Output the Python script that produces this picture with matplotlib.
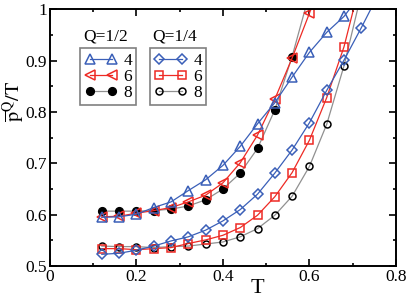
import numpy as np
import matplotlib
matplotlib.use("Agg")
import matplotlib.pyplot as plt
from matplotlib.lines import Line2D

plt.rcParams['font.family'] = ['Liberation Serif', 'DejaVu Serif']
plt.rcParams['mathtext.fontset'] = 'stix'

# temperatures
T = [0.12, 0.16, 0.20, 0.24, 0.28, 0.32, 0.36, 0.40, 0.44, 0.48, 0.52, 0.56, 0.60, 0.64, 0.68, 0.72, 0.76]

# Q=1/2
q2_L4 = [0.595, 0.596, 0.601, 0.614, 0.625, 0.647, 0.668, 0.696, 0.733, 0.777, 0.818, 0.868, 0.916, 0.955, 0.986, 1.03]
q2_L6 = [0.596, 0.597, 0.603, 0.608, 0.614, 0.625, 0.638, 0.662, 0.701, 0.755, 0.825, 0.905, 0.992, 1.09]
q2_L8 = [0.607, 0.607, 0.607, 0.608, 0.611, 0.617, 0.629, 0.650, 0.681, 0.729, 0.804, 0.908, 1.03]

# Q=1/4
q4_L4 = [0.523, 0.525, 0.531, 0.539, 0.549, 0.557, 0.570, 0.588, 0.610, 0.640, 0.681, 0.726, 0.779, 0.842, 0.901, 0.964, 1.03]
q4_L6 = [0.534, 0.534, 0.532, 0.534, 0.536, 0.544, 0.551, 0.560, 0.575, 0.599, 0.635, 0.682, 0.745, 0.828, 0.927, 1.06]
q4_L8 = [0.539, 0.538, 0.538, 0.536, 0.538, 0.539, 0.543, 0.547, 0.557, 0.573, 0.599, 0.636, 0.694, 0.776, 0.890, 1.03]

xticks = [0, 0.2, 0.4, 0.6, 0.8]
xticklabels = ['0', '0.2', '0.4', '0.6', '0.8']
yticks = [0.5, 0.6, 0.7, 0.8, 0.9, 1.0]
yticklabels = ['0.5', '0.6', '0.7', '0.8', '0.9', '1']

blue = '#3a5fb8'
red = '#ee2a24'
gray = '#909090'

fig = plt.figure(figsize=(4.09, 2.98), dpi=100)
ax = fig.add_axes([0.122, 0.107, 0.846, 0.862])

def draw(y, color, lcolor, marker, ms, mfc):
    ax.plot(T[:len(y)], y, color=lcolor, lw=0.9, marker=marker, ms=ms,
            mfc=mfc, mec=color, mew=1.1)

draw(q4_L8, 'black', gray, 'o', 5, 'none')
draw(q4_L6, red, red, 's', 5.5, 'none')
draw(q4_L4, blue, blue, 'D', 5, 'none')
draw(q2_L8, 'black', gray, 'o', 5.5, 'black')
draw(q2_L6, red, red, '<', 6.5, 'none')
draw(q2_L4, blue, blue, '^', 6.5, 'none')

ax.set_xlim(0, 0.8)
ax.set_ylim(0.5, 1.0)
ax.set_xticks(xticks)
ax.set_xticklabels(xticklabels)
ax.set_xticks([0.1, 0.3, 0.5, 0.7], minor=True)
ax.set_yticks(yticks)
ax.set_yticklabels(yticklabels)
ax.set_yticks([0.55, 0.65, 0.75, 0.85, 0.95], minor=True)
ax.tick_params(which='both', direction='in', top=True, right=True, labelsize=12.5, width=1.2)
ax.tick_params(which='major', length=5, pad=2)
ax.tick_params(which='minor', length=2.5)
for s in ax.spines.values():
    s.set_linewidth(1.4)

ax.set_xlabel('T', fontsize=16)
ax.set_ylabel(r'$\overline{\mathrm{p}}^{\mathrm{Q}}/\mathrm{T}$', fontsize=14.5)
ax.xaxis.set_label_coords(0.6, -0.05)
ax.yaxis.set_label_coords(-0.066, 0.64)

def handle(color, lcolor, marker, ms, mfc):
    return Line2D([], [], color=lcolor, lw=0.9, marker=marker, ms=ms, mfc=mfc, mec=color, mew=1.1)

h1 = [handle(blue, blue, '^', 6.5, 'none'), handle(red, red, '<', 6.5, 'none'),
      handle('black', gray, 'o', 5.5, 'black')]
h2 = [handle(blue, blue, 'D', 5, 'none'), handle(red, red, 's', 5.5, 'none'),
      handle('black', gray, 'o', 5, 'none')]
labels = ['4', '6', '8']

leg_kw = dict(loc='upper left', numpoints=2, handlelength=1.9, handletextpad=0.35,
              borderpad=0.25, labelspacing=0.0, borderaxespad=0, fontsize=12.5,
              fancybox=False, edgecolor='#808080', framealpha=1)
leg1 = ax.legend(h1, labels, bbox_to_anchor=(0.087, 0.848), **leg_kw)
leg1.get_frame().set_linewidth(1.2)
ax.add_artist(leg1)
leg2 = ax.legend(h2, labels, bbox_to_anchor=(0.289, 0.848), **leg_kw)
leg2.get_frame().set_linewidth(1.2)

ax.text(0.095, 0.862, 'Q=1/2', transform=ax.transAxes, fontsize=12.5, va='bottom')
ax.text(0.296, 0.862, 'Q=1/4', transform=ax.transAxes, fontsize=12.5, va='bottom')

fig.savefig('out.png', dpi=100)
